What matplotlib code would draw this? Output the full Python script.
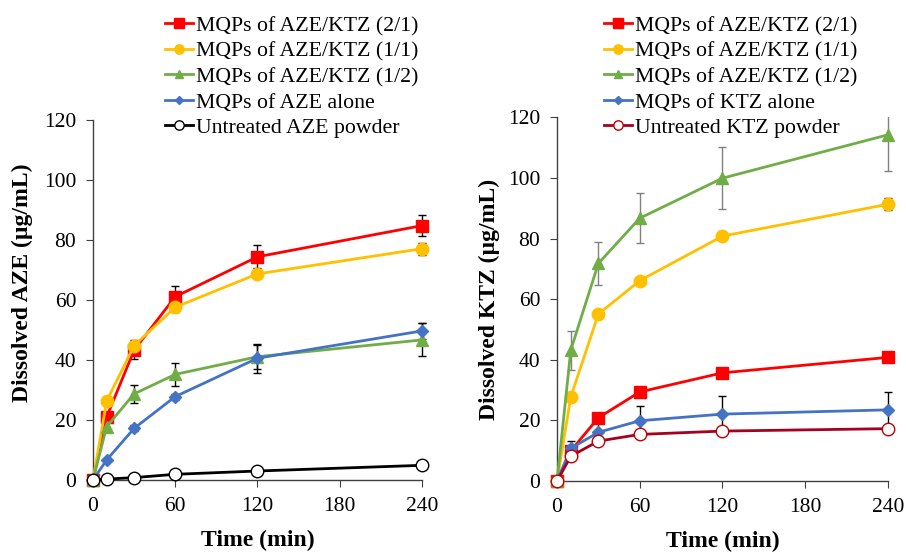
import matplotlib
matplotlib.use("Agg")
from matplotlib import pyplot as plt
import matplotlib.patches as mpatches
import numpy as np

plt.rcParams['font.family'] = ['Liberation Serif', 'DejaVu Serif']

time = [0, 10, 30, 60, 120, 240]

# left panel: dissolved AZE (ug/mL)
aze_21 = [0, 21.0, 43.3, 61.1, 74.4, 84.8]
aze_21_err = [0, 1.5, 3.0, 3.5, 3.8, 3.6]
aze_11 = [0, 26.3, 44.8, 57.6, 68.7, 77.1]
aze_11_err = [0, 1.0, 2.0, 1.5, 1.5, 2.0]
aze_12 = [0, 17.8, 28.7, 35.2, 41.1, 46.7]
aze_12_err = [0, 1.5, 2.9, 3.9, 4.0, 5.5]
aze_alone = [0, 6.7, 17.2, 27.8, 40.6, 49.7]
aze_alone_err = [0, 0.5, 1.0, 1.0, 4.8, 2.8]
aze_raw = [0, 0.3, 0.8, 1.9, 3.0, 4.9]
aze_raw_err = [0, 0.1, 0.2, 0.2, 0.3, 0.4]

# right panel: dissolved KTZ (ug/mL)
ktz_21 = [0, 10.0, 20.9, 29.4, 35.7, 40.8]
ktz_21_err = [0, 1.0, 1.0, 1.0, 1.0, 1.0]
ktz_11 = [0, 27.8, 55.1, 66.1, 80.8, 91.3]
ktz_11_err = [0, 1.0, 1.0, 1.0, 1.0, 2.0]
ktz_12 = [0, 43.2, 71.8, 86.7, 99.9, 114.2]
ktz_12_err = [0, 6.4, 7.0, 8.2, 10.3, 11.8]
ktz_alone = [0, 10.8, 16.1, 19.9, 22.1, 23.5]
ktz_alone_err = [0, 2.5, 3.0, 4.8, 6.0, 5.9]
ktz_raw = [0, 8.2, 13.2, 15.4, 16.5, 17.3]
ktz_raw_err = [0, 0.5, 0.5, 0.5, 0.5, 0.5]

fig = plt.figure(figsize=(9.06, 5.53), dpi=100)
ax1 = fig.add_axes([0.1026, 0.132, 0.3632, 0.651])
ax2 = fig.add_axes([0.6148, 0.130, 0.3652, 0.658])

red = "#FF0000"
yellow = "#FFC000"
green = "#70AD47"
blue = "#4472C4"


def draw(ax, series, ecol_green):
    # error bars clipped only at the top of the plot area
    clip = mpatches.Rectangle((-0.1, -0.1), 1.2, 1.1, transform=ax.transAxes,
                              fill=False, visible=False)
    ax.add_patch(clip)
    for y, err, col, mk, ms, mfc, mec, lab in series:
        ecol = ecol_green if col == green else "black"
        eb = ax.errorbar(time, y, yerr=err, color=col, marker=mk, markersize=ms,
                         markerfacecolor=mfc, markeredgecolor=mec, linewidth=2,
                         ecolor=ecol, elinewidth=1, capsize=3, capthick=1,
                         label=lab, zorder=3)
        eb[0].set_clip_on(False)
        for art in list(eb[1]) + list(eb[2]):
            art.set_clip_path(clip)
    ax.set_xlim(0, 240)
    ax.set_ylim(0, 120)
    ax.set_xticks([0, 60, 120, 180, 240])
    ax.set_yticks(np.arange(0, 121, 20))
    for s in ["top", "right"]:
        ax.spines[s].set_visible(False)
    for s in ["left", "bottom"]:
        ax.spines[s].set_color("#404040")
        ax.spines[s].set_linewidth(1)
    ax.tick_params(direction="out", length=5, color="#404040", labelsize=15.5, pad=7)
    ax.set_xlabel("Time (min)", fontsize=17, fontweight="bold", labelpad=10)


series1 = [
    (aze_21, aze_21_err, red, "s", 9, red, red, "MQPs of AZE/KTZ (2/1)"),
    (aze_11, aze_11_err, yellow, "o", 9, yellow, yellow, "MQPs of AZE/KTZ (1/1)"),
    (aze_12, aze_12_err, green, "^", 8, green, green, "MQPs of AZE/KTZ (1/2)"),
    (aze_alone, aze_alone_err, blue, "D", 6, blue, blue, "MQPs of AZE alone"),
    (aze_raw, aze_raw_err, "black", "o", 9, "white", "black", "Untreated AZE powder"),
]
series2 = [
    (ktz_21, ktz_21_err, red, "s", 9, red, red, "MQPs of AZE/KTZ (2/1)"),
    (ktz_11, ktz_11_err, yellow, "o", 9, yellow, yellow, "MQPs of AZE/KTZ (1/1)"),
    (ktz_12, ktz_12_err, green, "^", 8, green, green, "MQPs of AZE/KTZ (1/2)"),
    (ktz_alone, ktz_alone_err, blue, "D", 6, blue, blue, "MQPs of KTZ alone"),
    (ktz_raw, ktz_raw_err, "#A50021", "o", 9, "white", "#C00000", "Untreated KTZ powder"),
]

draw(ax1, series1, "black")
draw(ax2, series2, "#808080")

ax1.set_ylabel("Dissolved AZE (\u00b5g/mL)", fontsize=17, fontweight="bold")
ax2.set_ylabel("Dissolved KTZ (\u00b5g/mL)", fontsize=17, fontweight="bold")
ax1.yaxis.set_label_coords(-0.183, 0.547)
ax2.yaxis.set_label_coords(-0.172, 0.5)

for ax, x0 in [(ax1, 0.168), (ax2, 0.652)]:
    h, l = ax.get_legend_handles_labels()
    h = [hh[0] for hh in h]
    fig.legend(h, l, loc="upper left", bbox_to_anchor=(x0, 0.995), frameon=False,
               fontsize=15.7, handlelength=1.28, handletextpad=0.14, labelspacing=0.24,
               borderaxespad=0.2, markerscale=0.75)

fig.savefig("out.png", dpi=100)
